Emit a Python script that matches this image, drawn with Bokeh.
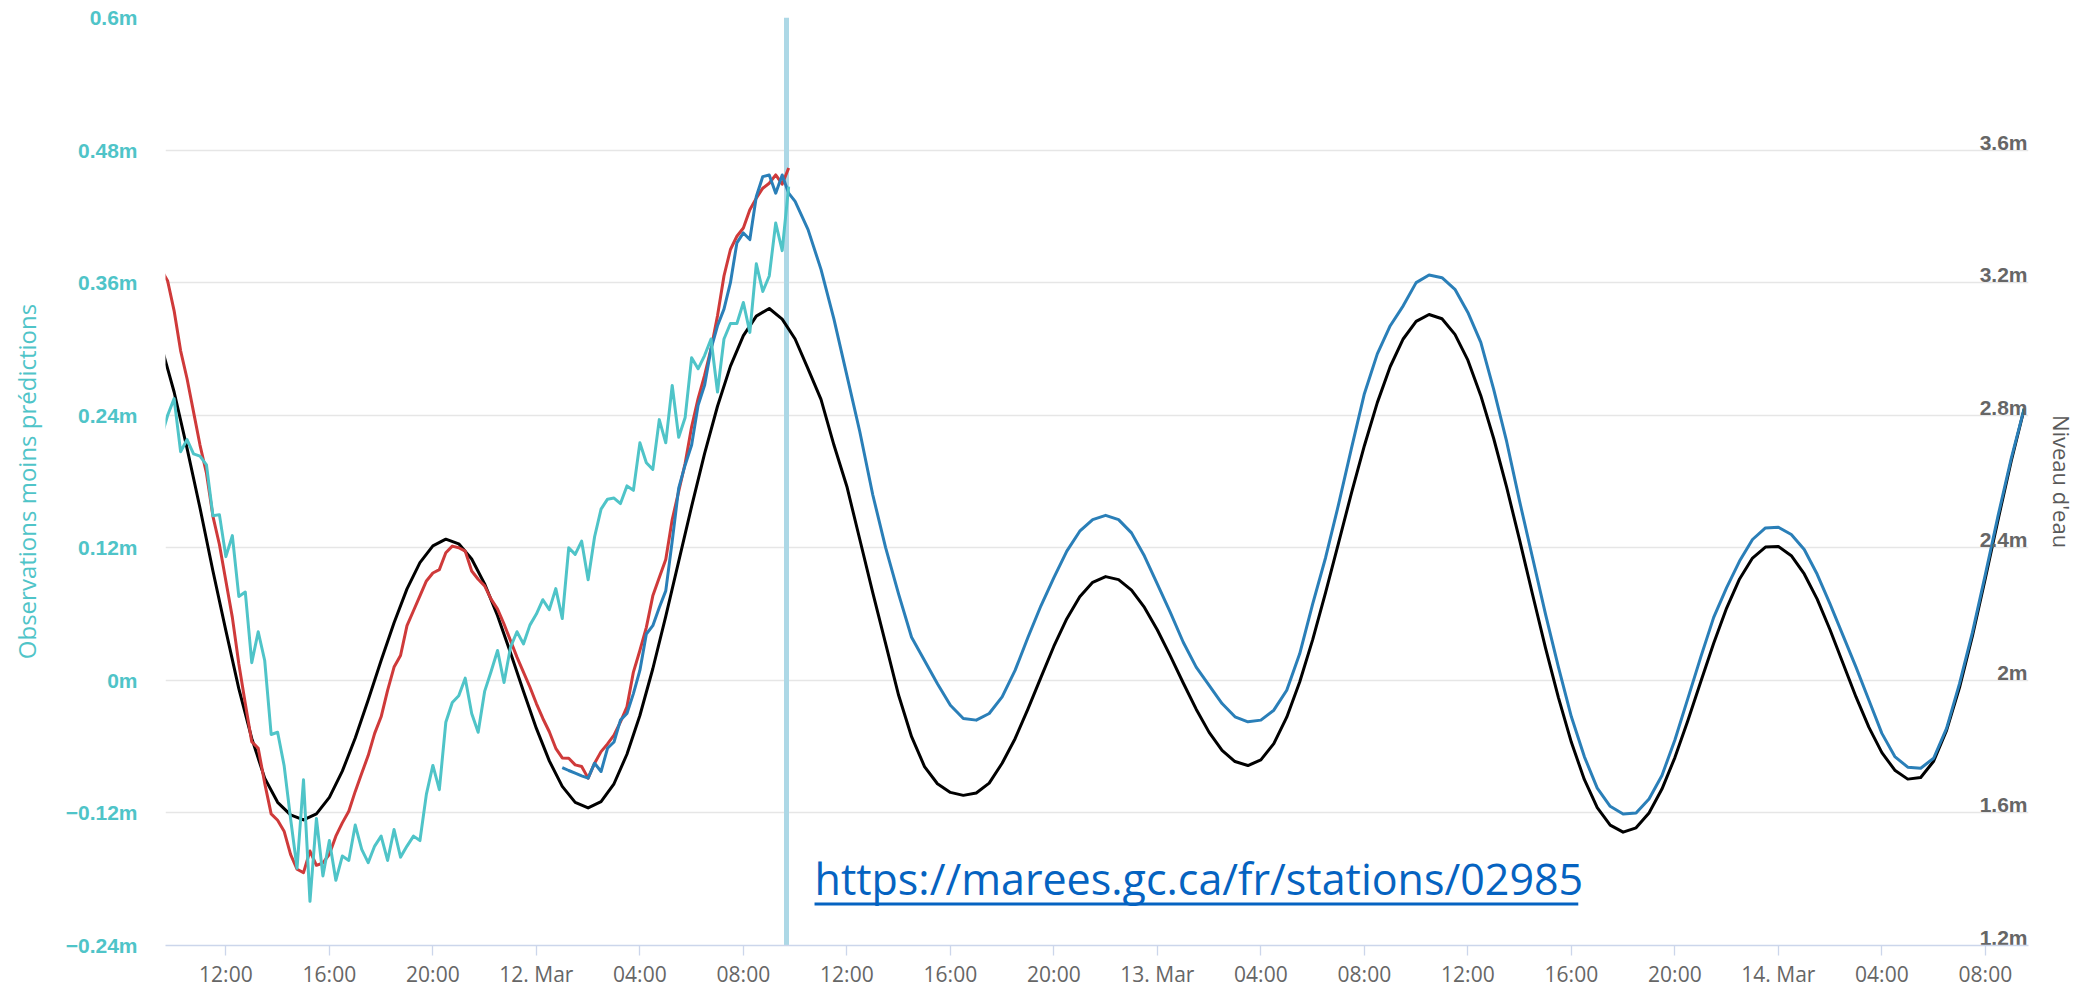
import pandas as pd
from bokeh.plotting import figure
from bokeh.models import (Range1d, LinearAxis, FixedTicker, Span, Label,
                          BoxAnnotation, ColumnDataSource)
from bokeh.core.properties import value
from bokeh.embed import file_html
from bokeh.resources import INLINE

# ---------------- data ----------------
view_start = "2023-03-11 09:40"
view_end = "2023-03-14 09:40"
now_time = "2023-03-12 09:40"

# Predictions (water level, m), every 30 min from 11 Mar 09:30
pred_start = "2023-03-11 09:30"
pred_level = [
    3.01, 2.87, 2.70, 2.52, 2.33, 2.15, 1.975, 1.825, 1.705, 1.632, 1.594, 1.579,
    1.597, 1.647, 1.726, 1.826, 1.941, 2.060, 2.174, 2.276, 2.355, 2.406, 2.426,
    2.412, 2.366, 2.291, 2.195, 2.083, 1.967, 1.855, 1.757, 1.680, 1.632, 1.615,
    1.634, 1.688, 1.777, 1.894, 2.035, 2.193, 2.359, 2.525, 2.684, 2.827, 2.948,
    3.040, 3.099, 3.122,
    3.09, 3.03, 2.94, 2.848, 2.71, 2.585, 2.425, 2.265, 2.11, 1.955, 1.83, 1.74,
    1.688, 1.662, 1.653, 1.66, 1.69, 1.75, 1.824, 1.914, 2.009, 2.103, 2.186,
    2.252, 2.296, 2.313, 2.304, 2.272, 2.220, 2.152, 2.074, 1.992, 1.913, 1.843,
    1.789, 1.755, 1.743, 1.760, 1.809, 1.889, 1.995, 2.122, 2.265, 2.414, 2.565,
    2.708, 2.838, 2.947, 3.030, 3.083, 3.104, 3.091, 3.044, 2.966, 2.859, 2.729,
    2.582, 2.423, 2.259, 2.098, 1.948, 1.813, 1.701, 1.616, 1.563, 1.542, 1.555,
    1.600, 1.672, 1.767, 1.878, 1.996, 2.112, 2.218, 2.306, 2.369, 2.402, 2.404,
    2.376, 2.321, 2.245, 2.152, 2.051, 1.950, 1.858, 1.782, 1.729, 1.702, 1.707,
    1.756, 1.849, 1.978, 2.134, 2.308, 2.488, 2.662, 2.819,
]

# Observations (water level, m), every 15 min from 11 Mar 09:30
obs_start = "2023-03-11 09:30"
obs_level = [
    3.24, 3.205, 3.115, 2.995, 2.91, 2.81, 2.71, 2.625,
    2.495, 2.41, 2.30, 2.19, 2.05, 1.93, 1.815, 1.795,
    1.69, 1.597, 1.578, 1.545, 1.475, 1.43, 1.42, 1.485,
    1.442, 1.449, 1.475, 1.53, 1.57, 1.605, 1.665, 1.72,
    1.773, 1.84, 1.89, 1.97, 2.04, 2.075, 2.165, 2.21,
    2.255, 2.30, 2.324, 2.334, 2.385, 2.405, 2.40, 2.39,
    2.33, 2.305, 2.285, 2.245, 2.215, 2.17, 2.12, 2.07,
    2.025, 1.98, 1.93, 1.885, 1.845, 1.795, 1.766, 1.765,
    1.745, 1.74, 1.705, 1.75, 1.785, 1.808, 1.835, 1.875,
    1.92, 2.025, 2.09, 2.16, 2.255, 2.31, 2.365, 2.485,
    2.57, 2.655, 2.765, 2.85, 2.92, 3.00, 3.10, 3.22,
    3.30, 3.34, 3.365, 3.42, 3.455, 3.485, 3.50, 3.525,
    3.497, 3.546,
]

# Observations minus predictions (m), every 15 min from 11 Mar 09:30
resid_m = [
    0.22, 0.24, 0.255, 0.207, 0.218, 0.205, 0.203, 0.195,
    0.149, 0.150, 0.112, 0.131, 0.076, 0.08, 0.016, 0.044,
    0.018, -0.049, -0.047, -0.077, -0.125, -0.17, -0.09, -0.20,
    -0.125, -0.177, -0.145, -0.181, -0.159, -0.163, -0.131, -0.153,
    -0.165, -0.15, -0.141, -0.163, -0.135, -0.16, -0.15, -0.141,
    -0.145, -0.103, -0.077, -0.099, -0.038, -0.02, -0.014, 0.002,
    -0.03, -0.047, -0.010, 0.008, 0.027, -0.002, 0.03, 0.044,
    0.033, 0.05, 0.06, 0.073, 0.064, 0.083, 0.056, 0.12,
    0.114, 0.126, 0.091, 0.13, 0.155, 0.164, 0.165, 0.16,
    0.176, 0.172, 0.215, 0.197, 0.191, 0.236, 0.215, 0.267,
    0.220, 0.238, 0.292, 0.282, 0.294, 0.309, 0.261, 0.309,
    0.323, 0.323, 0.342, 0.315, 0.377, 0.352, 0.366, 0.414,
    0.389, 0.447,
]

# Forecast (water level, m): 15 min from 12 Mar 01:00, then 30 min from 12 Mar 10:00
fcst_a_start = "2023-03-12 01:00"
fcst_a_level = [
    1.737, 1.728, 1.72, 1.712, 1.705, 1.75, 1.725, 1.795, 1.814, 1.88, 1.90, 1.96,
    2.03, 2.14, 2.165, 2.22, 2.27, 2.42, 2.58, 2.65, 2.71, 2.83, 2.89, 3.00,
    3.07, 3.12, 3.20, 3.32, 3.35, 3.33, 3.46, 3.52, 3.525, 3.47, 3.525, 3.47,
]
fcst_b_start = "2023-03-12 10:00"
fcst_b_level = [
    3.445, 3.36, 3.24, 3.09, 2.92, 2.75, 2.56, 2.40, 2.26, 2.13, 2.06, 1.99,
    1.925, 1.885, 1.88, 1.90, 1.95, 2.03, 2.13, 2.225, 2.31, 2.39, 2.45, 2.485,
    2.498, 2.485, 2.445, 2.375, 2.29, 2.205, 2.115, 2.04, 1.985, 1.93, 1.89, 1.875,
    1.88, 1.91, 1.97, 2.08, 2.23, 2.37, 2.53, 2.70, 2.865, 2.985, 3.07, 3.13,
    3.20, 3.223, 3.215, 3.18, 3.11, 3.02, 2.877, 2.72, 2.54, 2.37, 2.20, 2.04,
    1.89, 1.77, 1.675, 1.62, 1.597, 1.60, 1.642, 1.713, 1.82, 1.945, 2.07, 2.19,
    2.28, 2.36, 2.425, 2.46, 2.462, 2.44, 2.395, 2.32, 2.23, 2.135, 2.04, 1.94,
    1.84, 1.77, 1.738, 1.735, 1.765, 1.855, 1.99, 2.145, 2.32, 2.50, 2.67, 2.82,
]

x_tick_start = "2023-03-11 12:00"   # one tick every 4 hours
x_tick_labels = ["12:00", "16:00", "20:00", "12. Mar", "04:00", "08:00",
                 "12:00", "16:00", "20:00", "13. Mar", "04:00", "08:00",
                 "12:00", "16:00", "20:00", "14. Mar", "04:00", "08:00"]
left_ticks = [-0.24, -0.12, 0.0, 0.12, 0.24, 0.36, 0.48, 0.6]
left_tick_labels = ["\u22120.24m", "\u22120.12m", "0m", "0.12m", "0.24m",
                    "0.36m", "0.48m", "0.6m"]
right_ticks = [1.2, 1.6, 2.0, 2.4, 2.8, 3.2, 3.6]
right_tick_labels = ["1.2m", "1.6m", "2m", "2.4m", "2.8m", "3.2m", "3.6m"]
left_title = "Observations moins prédictions"
right_title = "Niveau d'eau"
url_text = "https://marees.gc.ca/fr/stations/02985"

# ---------------- styling ----------------
TEAL = "#4fc4c8"
RED = "#cf3a3a"
BLUE = "#2a7fb8"
BLACK = "#000000"
GREY = "#666666"
NOW_COLOR = "#add8e6"
LW = 3.0


def ms(ts):
    return int(pd.Timestamp(ts).value // 10**6)


pred_t = pd.date_range(pred_start, periods=len(pred_level), freq="30min")
obs_t = pd.date_range(obs_start, periods=len(obs_level), freq="15min")
resid_t = pd.date_range(obs_start, periods=len(resid_m), freq="15min")
fa_t = pd.date_range(fcst_a_start, periods=len(fcst_a_level), freq="15min")
fb_t = pd.date_range(fcst_b_start, periods=len(fcst_b_level), freq="30min")
fcst_t = fa_t.append(fb_t)
fcst_level = fcst_a_level + fcst_b_level

p = figure(width=2086, height=990, x_axis_type="datetime",
           x_range=Range1d(ms(view_start), ms(view_end)),
           y_range=Range1d(-0.24, 0.6),
           output_backend="svg", toolbar_location=None,
           min_border_left=165, min_border_right=58,
           min_border_top=17, min_border_bottom=41)
p.extra_y_ranges = {"level": Range1d(1.2, 4.0)}
p.outline_line_color = None
p.background_fill_color = "white"
p.border_fill_color = "white"

# x axis
xtick_ms = [ms(t) for t in pd.date_range(x_tick_start, periods=len(x_tick_labels), freq="4h")]
xa = p.xaxis[0]
xa.ticker = FixedTicker(ticks=xtick_ms)
xa.major_label_overrides = dict(zip(xtick_ms, x_tick_labels))
xa.axis_line_color = "#ccd6eb"
xa.axis_line_width = 1.3
xa.major_tick_line_color = "#ccd6eb"
xa.major_tick_line_width = 1.3
xa.major_tick_in = 0
xa.major_tick_out = 10
xa.minor_tick_line_color = None
xa.major_label_standoff = 4
xa.major_label_text_color = GREY
xa.major_label_text_font = "Open Sans"
xa.major_label_text_font_size = "21px"
p.xgrid.visible = False

# left axis
ya = p.yaxis[0]
ya.ticker = FixedTicker(ticks=left_ticks)
ya.major_label_overrides = dict(zip(left_ticks, left_tick_labels))
ya.axis_line_color = None
ya.major_tick_line_color = None
ya.minor_tick_line_color = None
ya.major_tick_in = 0
ya.major_tick_out = 0
ya.major_label_standoff = 28
ya.major_label_text_color = TEAL
ya.major_label_text_font = "Liberation Sans"
ya.major_label_text_font_style = "bold"
ya.major_label_text_font_size = "21px"
ya.axis_label = left_title
ya.axis_label_text_color = TEAL
ya.axis_label_text_font = "Open Sans"
ya.axis_label_text_font_style = "normal"
ya.axis_label_text_font_size = "24px"
ya.axis_label_standoff = 20
p.ygrid.ticker = FixedTicker(ticks=left_ticks)
p.ygrid.grid_line_color = "#e6e6e6"
p.ygrid.grid_line_width = 1.3

# right axis (title only; labels drawn inside the plot like the original)
ra = LinearAxis(y_range_name="level", ticker=FixedTicker(ticks=[]))
ra.axis_line_color = None
ra.major_tick_line_color = None
ra.minor_tick_line_color = None
ra.major_tick_in = 0
ra.major_tick_out = 0
ra.major_label_text_font_size = "0px"
ra.axis_label = right_title
ra.axis_label_text_color = "#5a5a5a"
ra.axis_label_text_font = "Open Sans"
ra.axis_label_text_font_style = "normal"
ra.axis_label_text_font_size = "22px"
ra.axis_label_standoff = 18
p.add_layout(ra, "right")

# "now" line
p.add_layout(Span(location=ms(now_time), dimension="height", line_color=NOW_COLOR,
                  line_width=5, level="underlay"))

# series
src_pred = ColumnDataSource(dict(x=pred_t.values, y=pred_level))
src_obs = ColumnDataSource(dict(x=obs_t.values, y=obs_level))
src_fcst = ColumnDataSource(dict(x=fcst_t.values, y=fcst_level))
src_res = ColumnDataSource(dict(x=resid_t.values, y=resid_m))

p.line("x", "y", source=src_pred, y_range_name="level", line_color=BLACK,
       line_width=LW, line_join="round")
p.line("x", "y", source=src_obs, y_range_name="level", line_color=RED,
       line_width=LW, line_join="round")
p.line("x", "y", source=src_fcst, y_range_name="level", line_color=BLUE,
       line_width=LW, line_join="round")
p.line("x", "y", source=src_res, line_color=TEAL, line_width=LW, line_join="round")

# right-hand tick labels, drawn inside the plot area through the level scale
src_rt = ColumnDataSource(dict(x=[ms(view_end)] * len(right_ticks), y=right_ticks,
                               t=right_tick_labels))
p.text("x", "y", text="t", source=src_rt, y_range_name="level",
       text_align="right", text_baseline="alphabetic", x_offset=-1, y_offset=-8,
       text_color=GREY, text_font=value("Liberation Sans"), text_font_style="bold",
       text_font_size="21px")

# URL note with underline
p.add_layout(Label(x=ms("2023-03-12 10:45"), y=-0.1796, text=url_text,
                   text_color="#0563c1", text_font="Open Sans",
                   text_font_size="43px", text_baseline="alphabetic"))
p.add_layout(BoxAnnotation(left=ms("2023-03-12 10:45"), right=ms("2023-03-13 16:16"),
                           top=-0.2010, bottom=-0.2037, fill_color="#0563c1",
                           fill_alpha=1.0, line_color=None))

open("out.html", "w").write(file_html(p, INLINE))
